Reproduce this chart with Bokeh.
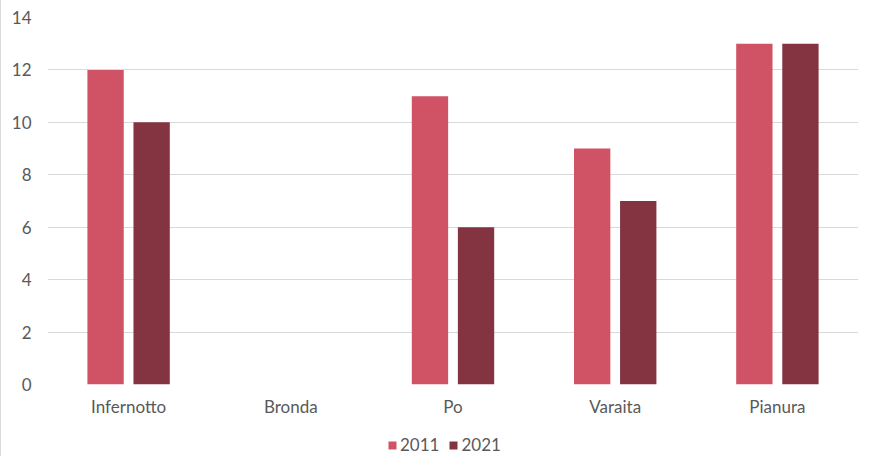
from bokeh.plotting import figure
from bokeh.layouts import column
from bokeh.models import ColumnDataSource, Legend, LegendItem, FactorRange, Range1d, FixedTicker
from bokeh.transform import dodge
from bokeh.embed import file_html
from bokeh.resources import INLINE

categories = ["Infernotto", "Bronda", "Po", "Varaita", "Pianura"]
years = ["2011", "2021"]
values_2011 = [12, 0, 11, 9, 13]
values_2021 = [10, 0, 6, 7, 13]
y_ticks = [0, 2, 4, 6, 8, 10, 12, 14]

colors = ["#d05265", "#833440"]
text_color = "#595959"
grid_color = "#d9d9d9"
font = "Lato"

src = ColumnDataSource(dict(cat=categories, v2011=values_2011, v2021=values_2021))

p = figure(x_range=FactorRange(*categories, range_padding=0), y_range=Range1d(0, 14),
           width=860, height=428, output_backend="svg", toolbar_location=None,
           min_border_left=46, min_border_right=3, min_border_top=17, min_border_bottom=44)

p.vbar(x=dodge("cat", -0.142, range=p.x_range), top="v2011", width=0.224,
       source=src, color=colors[0], line_color=None)
p.vbar(x=dodge("cat", 0.142, range=p.x_range), top="v2021", width=0.224,
       source=src, color=colors[1], line_color=None)

p.outline_line_color = None
p.xgrid.grid_line_color = None
p.ygrid.grid_line_color = grid_color
p.ygrid.grid_line_width = 1
p.yaxis.ticker = FixedTicker(ticks=y_ticks)

for ax in (p.xaxis, p.yaxis):
    ax.axis_line_color = None
    ax.major_tick_line_color = None
    ax.minor_tick_line_color = None
    ax.major_label_text_color = text_color
    ax.major_label_text_font = font
    ax.major_label_text_font_size = "17px"

p.xaxis.major_label_standoff = 5
p.yaxis.major_label_standoff = 10

# legend strip below the chart (zero-height proxy bars carry the legend swatches)
lg = figure(width=860, height=28, x_range=Range1d(100, 101), y_range=Range1d(0, 1),
            output_backend="svg", toolbar_location=None,
            x_axis_location=None, y_axis_location=None,
            min_border=0, min_border_left=0, min_border_right=0,
            min_border_top=0, min_border_bottom=0)
lg.outline_line_color = None
lg.grid.grid_line_color = None
lr1 = lg.vbar(x="v2011", top=0, width=0.5, source=src, color=colors[0], line_color=None)
lr2 = lg.vbar(x="v2021", top=0, width=0.5, source=src, color=colors[1], line_color=None)

legend = Legend(items=[LegendItem(label=years[0], renderers=[lr1]),
                       LegendItem(label=years[1], renderers=[lr2])],
                orientation="horizontal", location=(340, 1),
                label_text_font=font, label_text_font_size="17px",
                label_text_color=text_color, glyph_width=10, glyph_height=10,
                label_height=18, label_standoff=3, spacing=9, border_line_color=None,
                padding=0, margin=0, background_fill_alpha=0)
lg.add_layout(legend, "center")

layout = column(p, lg, spacing=0, styles={"border-left": "1px solid #d9d9d9"})

open("out.html", "w").write(file_html(layout, INLINE))
